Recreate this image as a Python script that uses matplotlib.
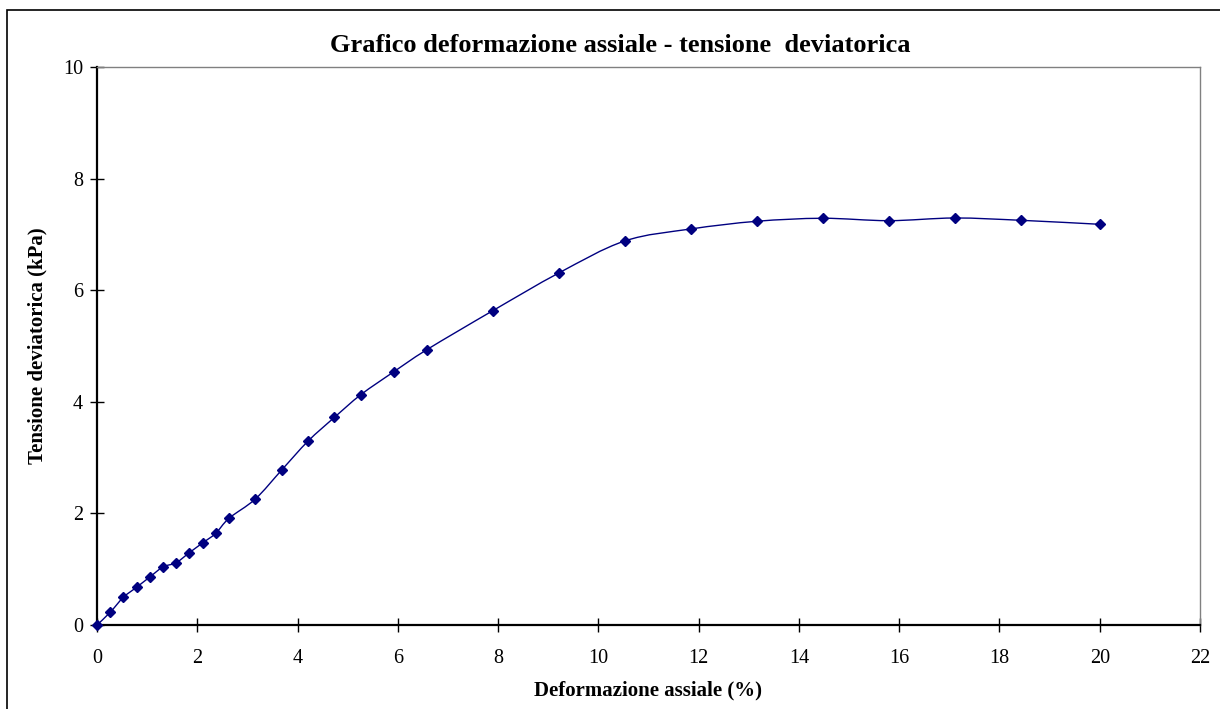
import numpy as np
import matplotlib
matplotlib.use("Agg")
import matplotlib.pyplot as plt
from matplotlib.path import Path
from matplotlib.patches import PathPatch, Rectangle

strain = [0.0, 0.263, 0.526, 0.789, 1.053, 1.316, 1.579, 1.842, 2.105, 2.368,
          2.632, 3.158, 3.684, 4.211, 4.737, 5.263, 5.921, 6.579, 7.895, 9.211,
          10.526, 11.842, 13.158, 14.474, 15.789, 17.105, 18.421, 20.0]
stress = [0.0, 0.228, 0.496, 0.676, 0.86, 1.04, 1.117, 1.296, 1.47, 1.643,
          1.912, 2.258, 2.778, 3.297, 3.722, 4.128, 4.539, 4.934, 5.633, 6.308,
          6.882, 7.097, 7.235, 7.289, 7.246, 7.294, 7.253, 7.181]
x_ticks = [0, 2, 4, 6, 8, 10, 12, 14, 16, 18, 20, 22]
y_ticks = [0, 2, 4, 6, 8, 10]

title = "Grafico deformazione assiale - tensione  deviatorica"
xlabel = "Deformazione assiale (%)"
ylabel = "Tensione deviatorica (kPa)"

navy = "#000080"
plt.rcParams['font.family'] = ['Liberation Serif', 'DejaVu Serif']

fig = plt.figure(figsize=(12.2, 7.09), dpi=100)
ax = fig.add_axes([97/1220, 1 - 625/709, (1200-97)/1220, (625-67)/709])

# smoothed line (Bezier curve through the points, like a spreadsheet "smooth line")
x = np.array(strain); y = np.array(stress)
verts = [(x[0], y[0])]
codes = [Path.MOVETO]
n = len(x)
t = 1/6
for i in range(n - 1):
    p0 = (x[i-1], y[i-1]) if i > 0 else (x[i], y[i])
    p1 = (x[i], y[i]); p2 = (x[i+1], y[i+1])
    p3 = (x[i+2], y[i+2]) if i + 2 < n else p2
    c1 = (p1[0] + (p2[0]-p0[0])*t, p1[1] + (p2[1]-p0[1])*t)
    c2 = (p2[0] - (p3[0]-p1[0])*t, p2[1] - (p3[1]-p1[1])*t)
    verts += [c1, c2, p2]
    codes += [Path.CURVE4]*3
ax.add_patch(PathPatch(Path(verts, codes), facecolor='none', edgecolor=navy, lw=1.0, zorder=2))
ax.plot(strain, stress, linestyle='none', marker='D', ms=5.2, color=navy,
        markeredgecolor=navy, zorder=3, clip_on=False)

ax.set_xlim(0, 22)
ax.set_ylim(0, 10)
ax.set_xticks(x_ticks)
ax.set_yticks(y_ticks)
ax.tick_params(direction='inout', length=10, width=1, labelsize=14.5, colors='black')
ax.tick_params(axis='x', pad=12)
ax.tick_params(axis='y', pad=5)
for s in ['left', 'bottom']:
    ax.spines[s].set_linewidth(1.6)
    ax.spines[s].set_color('black')
for s in ['top', 'right']:
    ax.spines[s].set_linewidth(1.0)
    ax.spines[s].set_color('#808080')

ax.set_xlabel(xlabel, fontsize=15, fontweight='bold', labelpad=9)
ax.set_ylabel(ylabel, fontsize=15, fontweight='bold', labelpad=11)
fig.text(620/1220, 1 - 45/709, title, ha='center', va='center', fontsize=19, fontweight='bold')

# outer chart frame
fig.patches.append(Rectangle((7/1220, -0.05), 1.1, 1 - 10/709 + 0.05, transform=fig.transFigure,
                             fill=False, edgecolor='black', lw=1.2))

fig.savefig("out.png", dpi=100)
